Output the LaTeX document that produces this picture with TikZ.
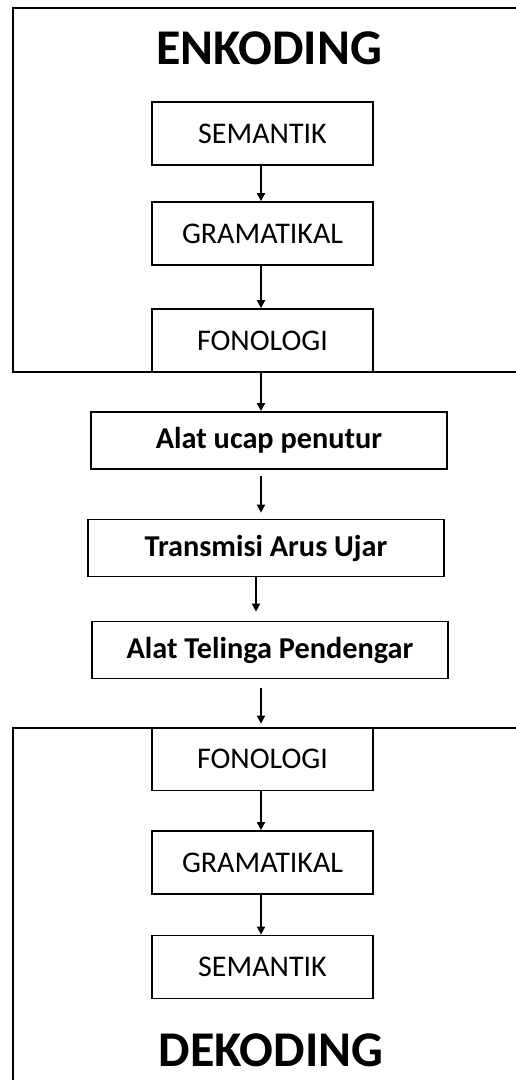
\documentclass[tikz,border=0pt]{standalone}
\usepackage{fontspec}
\setmainfont{Carlito}
\usetikzlibrary{arrows.meta}
\begin{document}
\begin{tikzpicture}[x=1pt,y=-1pt,
 frame/.style={line width=1.7pt},
 box/.style={draw, line width=1.7pt, minimum width=221pt, minimum height=63pt, inner sep=0pt, font=\fontsize{30}{32}\selectfont},
 wbox/.style={draw, line width=1.7pt, minimum width=356pt, minimum height=57pt, inner sep=0pt, font=\bfseries\fontsize{30.3}{32}\selectfont},
 conn/.style={line width=1.7pt, -{Triangle[length=8pt,width=8pt]}},
 title/.style={font=\bfseries\fontsize{50}{54}\selectfont}]
\useasboundingbox (0,0) rectangle (516,1080);
\draw[frame] (516,8) -- (13,8) -- (13,372) -- (516,372);
\draw[frame] (516,728) -- (13,728) -- (13,1080);
\node[title] (enk) at (269,48) {ENKODING};
\node[box] (s1) at (262.5,133.5) {SEMANTIK};
\node[box] (g1) at (262.5,233.5) {GRAMATIKAL};
\node[box] (f1) at (262.5,340.5) {FONOLOGI};
\node[wbox] (a1) at (269,440.5) {Alat ucap penutur};
\node[wbox] (t1) at (266,548) {Transmisi Arus Ujar};
\node[wbox] (p1) at (270,650) {Alat Telinga Pendengar};
\node[box] (f2) at (262.5,759) {FONOLOGI};
\node[box] (g2) at (262.5,862.5) {GRAMATIKAL};
\node[box] (s2) at (262.5,967) {SEMANTIK};
\node[title] (dek) at (271,1050) {DEKODING};
\draw[conn] ([xshift=-1.5pt]s1.south) -- ([xshift=-1.5pt]s1.south |- g1.north);
\draw[conn] ([xshift=-1.5pt]g1.south) -- ([xshift=-1.5pt]g1.south |- f1.north);
\draw[conn] ([xshift=-1.5pt]f1.south) -- ([xshift=-1.5pt]f1.south |- a1.north);
\draw[conn, shorten <=6pt, shorten >=6pt] ([xshift=-8pt]a1.south) -- ([xshift=-8pt]a1.south |- t1.north);
\draw[conn, shorten >=9pt] ([xshift=-10pt]t1.south) -- ([xshift=-10pt]t1.south |- p1.north);
\draw[conn, shorten <=9pt, shorten >=3pt] ([xshift=-9pt]p1.south) -- ([xshift=-9pt]p1.south |- f2.north);
\draw[conn] ([xshift=-1.5pt]f2.south) -- ([xshift=-1.5pt]f2.south |- g2.north);
\draw[conn] ([xshift=-1.5pt]g2.south) -- ([xshift=-1.5pt]g2.south |- s2.north);
\end{tikzpicture}
\end{document}
